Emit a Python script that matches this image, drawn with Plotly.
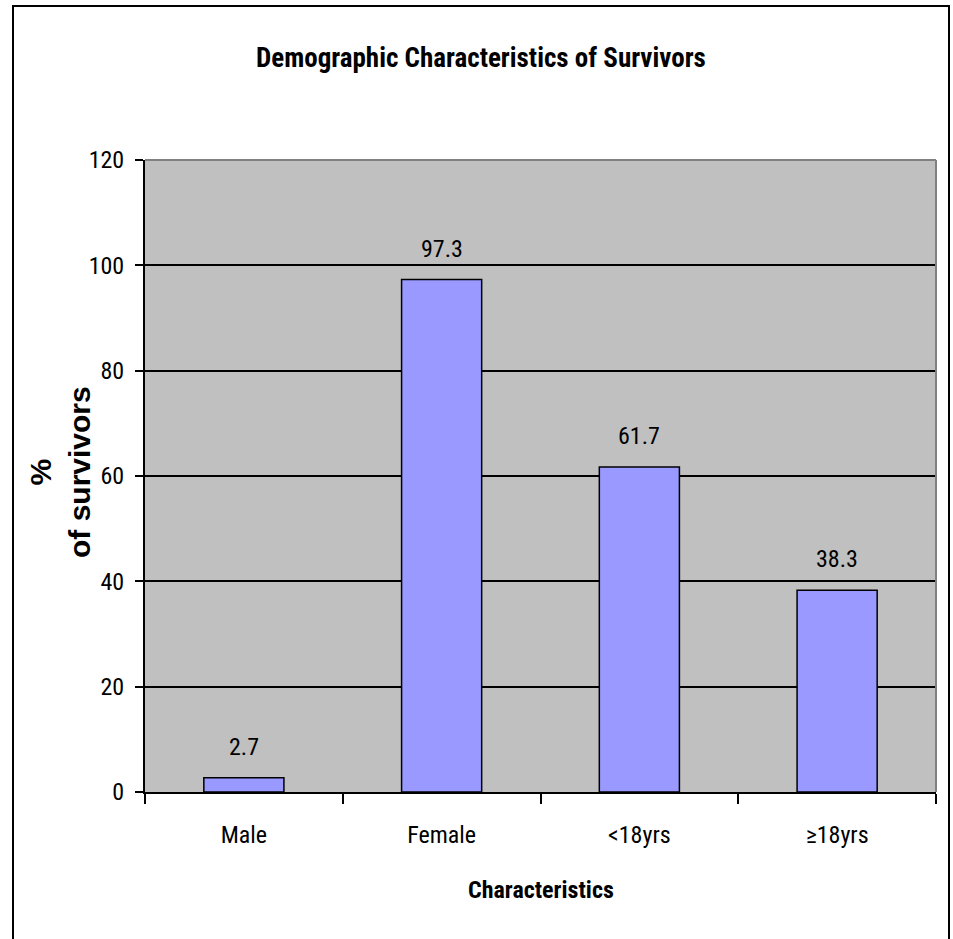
import plotly.graph_objects as go

# Survivor breakdown (% of survivors)
categories = ["Male", "Female", "<18yrs", "\u226518yrs"]
percent = [2.7, 97.3, 61.7, 38.3]
y_ticks = [0, 20, 40, 60, 80, 100, 120]

NARROW = "Roboto Condensed, DejaVu Sans Condensed, Liberation Sans Narrow, Arial Narrow, sans-serif"
WIDE = "Liberation Sans, Arial, sans-serif"

fig = go.Figure()
fig.add_trace(go.Bar(
    x=categories,
    y=percent,
    marker=dict(color="#9999FF", line=dict(color="black", width=1.5)),
    hoverinfo="skip",
))

# value labels above each bar
for c, v in zip(categories, percent):
    fig.add_annotation(
        x=c, y=v, text=f"{v:.1f}", showarrow=False,
        xref="x", yref="y", yanchor="middle", yshift=31,
        font=dict(family=NARROW, size=24, color="black"),
    )

# chart title
fig.add_annotation(
    x=(481 - 145) / 791, y=(792 - 58) / 632, xref="paper", yref="paper",
    text="<b>Demographic Characteristics of Survivors</b>", showarrow=False,
    xanchor="center", yanchor="middle",
    font=dict(family=NARROW, size=27, color="black"),
)
# x axis title
fig.add_annotation(
    x=0.5, y=(792 - 890) / 632, xref="paper", yref="paper",
    text="<b>Characteristics</b>", showarrow=False,
    xanchor="center", yanchor="middle",
    font=dict(family=NARROW, size=24, color="black"),
)
# y axis title
fig.add_annotation(
    x=(60 - 145) / 791, y=(792 - 472) / 632, xref="paper", yref="paper",
    text="<b>%<br>of survivors</b>", showarrow=False, textangle=-90,
    xanchor="center", yanchor="middle",
    font=dict(family=WIDE, size=30, color="black"),
)

# outer frame and the grey top/right edges of the plotting area
fig.add_shape(type="rect", xref="paper", yref="paper",
              x0=(13 - 145) / 791, x1=(949 - 145) / 791,
              y0=-0.3, y1=(792 - 6) / 632,
              line=dict(color="black", width=2), layer="above")
fig.add_shape(type="line", xref="paper", yref="paper", x0=0, x1=1, y0=1, y1=1,
              line=dict(color="#808080", width=2), layer="above")
fig.add_shape(type="line", xref="paper", yref="paper", x0=1, x1=1, y0=0, y1=1,
              line=dict(color="#808080", width=2), layer="above")

fig.update_layout(
    width=953, height=939,
    margin=dict(l=145, r=17, t=160, b=147),
    paper_bgcolor="white",
    plot_bgcolor="#C0C0C0",
    showlegend=False,
    bargap=0.595,
    font=dict(family=NARROW, size=24, color="black"),
)
fig.update_xaxes(
    type="category",
    showline=True, linecolor="black", linewidth=2,
    ticks="outside", tickson="boundaries", ticklen=10, tickwidth=1.5, tickcolor="black",
    ticklabelstandoff=20,
    showgrid=False,
    tickfont=dict(family=NARROW, size=24, color="black"),
)
fig.update_yaxes(
    range=[0, 120], tickvals=y_ticks,
    showline=True, linecolor="black", linewidth=2,
    ticks="outside", ticklen=8, tickwidth=1.5, tickcolor="black",
    ticklabelstandoff=6,
    showgrid=True, gridcolor="black", gridwidth=1.5,
    zeroline=False,
    tickfont=dict(family=NARROW, size=24, color="black"),
)

fig.write_html("out.html")
